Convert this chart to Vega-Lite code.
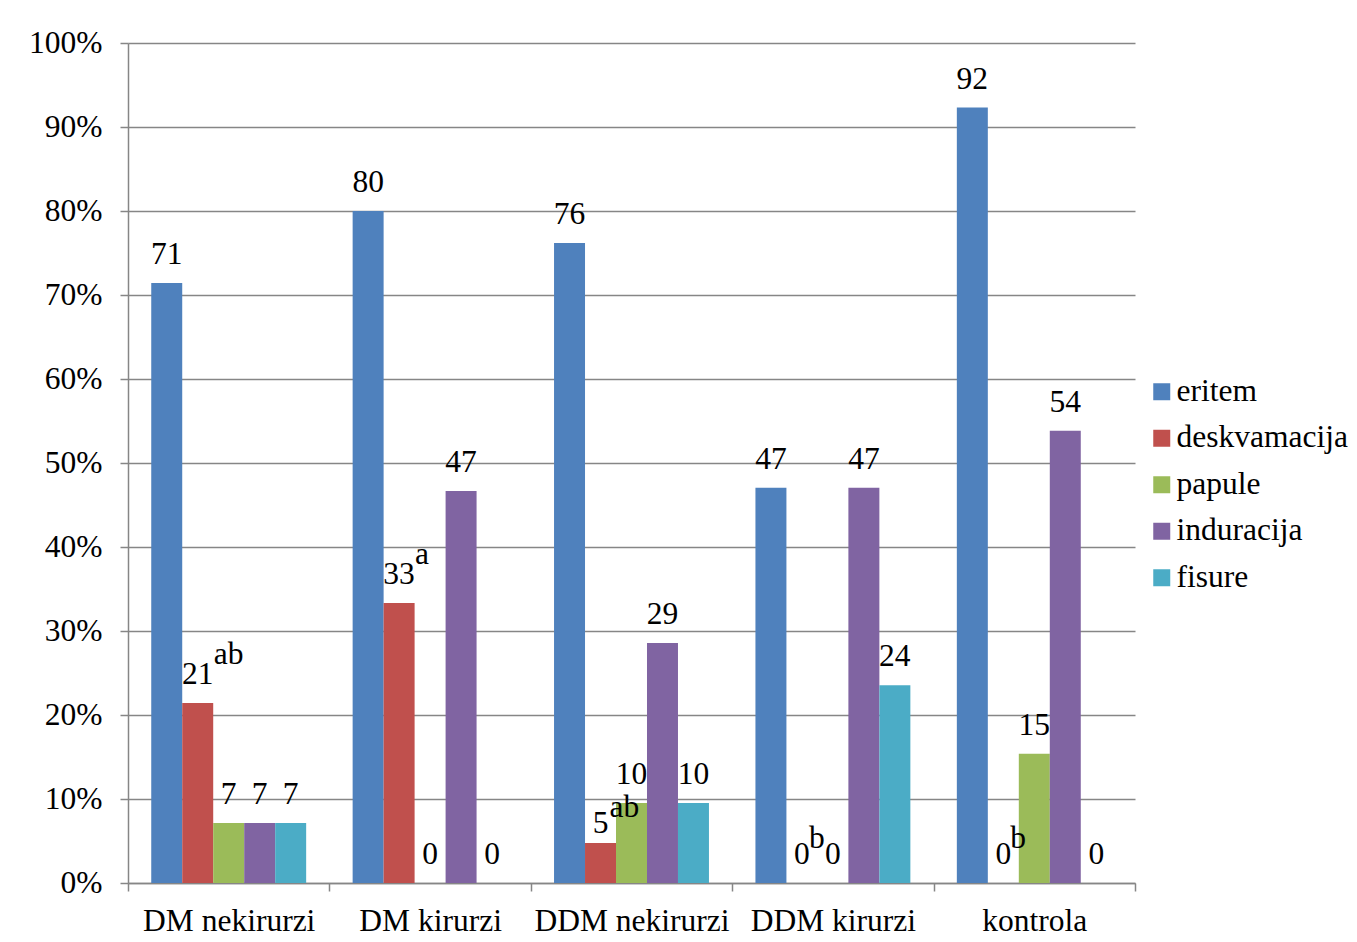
{
  "$schema": "https://vega.github.io/schema/vega-lite/v6.json",
  "width": 1007,
  "height": 840,
  "autosize": {"type": "none"},
  "padding": {"left": 128, "top": 43, "right": 222, "bottom": 59},
  "background": "white",
  "config": {
    "font": "'Liberation Serif', 'Times New Roman', 'DejaVu Serif', serif",
    "view": {"stroke": null},
    "axis": {
      "labelFont": "'Liberation Serif', 'Times New Roman', 'DejaVu Serif', serif",
      "labelFontSize": 31.5,
      "labelColor": "black",
      "labelLimit": 400,
      "domainColor": "#868686",
      "domainWidth": 1.5,
      "tickColor": "#868686",
      "tickWidth": 1.5,
      "tickSize": 8,
      "gridColor": "#868686",
      "gridWidth": 1.5,
      "title": null
    },
    "legend": {
      "labelFont": "'Liberation Serif', 'Times New Roman', 'DejaVu Serif', serif",
      "labelLimit": 400
    },
    "text": {
      "font": "'Liberation Serif', 'Times New Roman', 'DejaVu Serif', serif",
      "fontSize": 31.5,
      "color": "black"
    }
  },
  "data": {
    "values": [
      {"group": "DM nekirurzi", "series": "eritem", "value": 71.43, "sup": ""},
      {"group": "DM nekirurzi", "series": "deskvamacija", "value": 21.43, "sup": "ab"},
      {"group": "DM nekirurzi", "series": "papule", "value": 7.14, "sup": ""},
      {"group": "DM nekirurzi", "series": "induracija", "value": 7.14, "sup": ""},
      {"group": "DM nekirurzi", "series": "fisure", "value": 7.14, "sup": ""},
      {"group": "DM kirurzi", "series": "eritem", "value": 80.0, "sup": ""},
      {"group": "DM kirurzi", "series": "deskvamacija", "value": 33.33, "sup": "a"},
      {"group": "DM kirurzi", "series": "papule", "value": 0, "sup": ""},
      {"group": "DM kirurzi", "series": "induracija", "value": 46.67, "sup": ""},
      {"group": "DM kirurzi", "series": "fisure", "value": 0, "sup": ""},
      {"group": "DDM nekirurzi", "series": "eritem", "value": 76.19, "sup": ""},
      {"group": "DDM nekirurzi", "series": "deskvamacija", "value": 4.76, "sup": "ab"},
      {"group": "DDM nekirurzi", "series": "papule", "value": 9.52, "sup": ""},
      {"group": "DDM nekirurzi", "series": "induracija", "value": 28.57, "sup": ""},
      {"group": "DDM nekirurzi", "series": "fisure", "value": 9.52, "sup": ""},
      {"group": "DDM kirurzi", "series": "eritem", "value": 47.06, "sup": ""},
      {"group": "DDM kirurzi", "series": "deskvamacija", "value": 0, "sup": "b"},
      {"group": "DDM kirurzi", "series": "papule", "value": 0, "sup": ""},
      {"group": "DDM kirurzi", "series": "induracija", "value": 47.06, "sup": ""},
      {"group": "DDM kirurzi", "series": "fisure", "value": 23.53, "sup": ""},
      {"group": "kontrola", "series": "eritem", "value": 92.31, "sup": ""},
      {"group": "kontrola", "series": "deskvamacija", "value": 0, "sup": "b"},
      {"group": "kontrola", "series": "papule", "value": 15.38, "sup": ""},
      {"group": "kontrola", "series": "induracija", "value": 53.85, "sup": ""},
      {"group": "kontrola", "series": "fisure", "value": 0, "sup": ""}
    ]
  },
  "encoding": {
    "x": {
      "field": "group",
      "type": "nominal",
      "sort": ["DM nekirurzi", "DM kirurzi", "DDM nekirurzi", "DDM kirurzi", "kontrola"],
      "scale": {"paddingInner": 0, "paddingOuter": 0},
      "axis": {"labelAngle": 0, "tickBand": "extent", "labelPadding": 14, "grid": false}
    },
    "xOffset": {
      "field": "series",
      "type": "nominal",
      "sort": ["eritem", "deskvamacija", "papule", "induracija", "fisure"],
      "scale": {"paddingInner": 0, "paddingOuter": 0.75}
    },
    "y": {
      "field": "value",
      "type": "quantitative",
      "scale": {"domain": [0, 100], "nice": false},
      "axis": {
        "values": [0, 10, 20, 30, 40, 50, 60, 70, 80, 90, 100],
        "labelExpr": "datum.value + '%'",
        "labelPadding": 18,
        "grid": true
      }
    }
  },
  "layer": [
    {
      "mark": {"type": "bar"},
      "encoding": {
        "color": {
          "field": "series",
          "type": "nominal",
          "sort": ["eritem", "deskvamacija", "papule", "induracija", "fisure"],
          "scale": {
            "domain": ["eritem", "deskvamacija", "papule", "induracija", "fisure"],
            "range": ["#4F81BD", "#C0504D", "#9BBB59", "#8064A2", "#4BACC6"]
          },
          "legend": {
            "title": null,
            "orient": "none",
            "legendX": 1018,
            "legendY": 333,
            "padding": 0,
            "symbolType": "square",
            "symbolSize": 289,
            "symbolStrokeWidth": 0,
            "labelFontSize": 31.5,
            "labelColor": "black",
            "labelOffset": -1,
            "rowPadding": 13.5
          }
        }
      }
    },
    {
      "transform": [{"filter": "!(length(datum.sup) > 0 && datum.value > 0 && datum.value < 9.5)"}],
      "mark": {"type": "text", "baseline": "alphabetic", "dy": -19},
      "encoding": {
        "text": {"field": "value", "type": "quantitative", "format": ".0f"}
      }
    },
    {
      "transform": [{"filter": "length(datum.sup) > 0 && datum.value > 0 && datum.value < 9.5"}],
      "mark": {"type": "text", "baseline": "alphabetic", "dy": -10},
      "encoding": {
        "text": {"field": "value", "type": "quantitative", "format": ".0f"}
      }
    },
    {
      "transform": [{"filter": "length(datum.sup) > 0 && datum.value >= 9.5"}],
      "mark": {"type": "text", "align": "left", "baseline": "alphabetic", "dx": 16, "dy": -39},
      "encoding": {
        "text": {"field": "sup", "type": "nominal"}
      }
    },
    {
      "transform": [{"filter": "length(datum.sup) > 0 && datum.value == 0"}],
      "mark": {"type": "text", "align": "left", "baseline": "alphabetic", "dx": 7, "dy": -35},
      "encoding": {
        "text": {"field": "sup", "type": "nominal"}
      }
    },
    {
      "transform": [{"filter": "length(datum.sup) > 0 && datum.value > 0 && datum.value < 9.5"}],
      "mark": {"type": "text", "align": "left", "baseline": "alphabetic", "dx": 9, "dy": -26},
      "encoding": {
        "text": {"field": "sup", "type": "nominal"}
      }
    }
  ]
}
